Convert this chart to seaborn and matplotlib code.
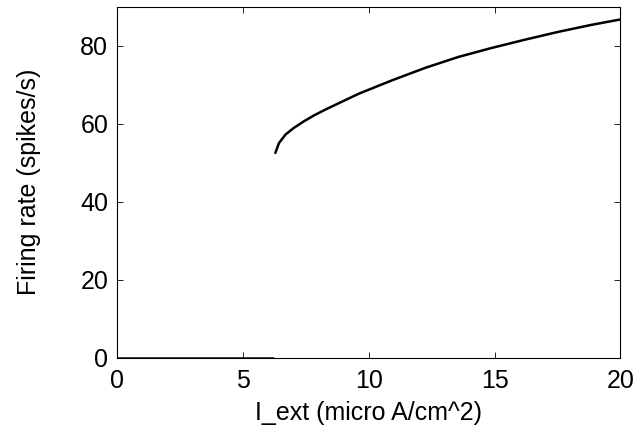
import matplotlib
matplotlib.use("Agg")
import matplotlib.pyplot as plt
import seaborn as sns
import pandas as pd

# Quiescent branch (no firing below threshold)
rest_current = [0.0, 6.2]
rest_rate = [0.0, 0.0]

# Repetitive firing branch above threshold
spike_current = [6.30, 6.44, 6.70, 7.03, 7.43, 7.83, 8.28, 9.62, 10.93,
                 12.25, 13.57, 14.89, 16.2, 17.52, 18.84, 20.0]
spike_rate = [52.5, 55.0, 57.2, 58.9, 60.6, 62.1, 63.6, 67.7, 71.1,
              74.3, 77.1, 79.4, 81.5, 83.5, 85.3, 86.7]

x_ticks = [0, 5, 10, 15, 20]
y_ticks = [0, 20, 40, 60, 80]

sns.set_theme(style="ticks")
plt.rcParams["font.family"] = ["Liberation Sans", "DejaVu Sans"]

fig = plt.figure(figsize=(6.41, 4.36), dpi=100)
ax = fig.add_axes([0.182, 0.179, 0.786, 0.806])

rest = pd.DataFrame({"I": rest_current, "rate": rest_rate})
spike = pd.DataFrame({"I": spike_current, "rate": spike_rate})
sns.lineplot(data=rest, x="I", y="rate", ax=ax, color="black", lw=1.8,
             sort=False, estimator=None)
sns.lineplot(data=spike, x="I", y="rate", ax=ax, color="black", lw=1.8,
             sort=False, estimator=None)

ax.set_xlim(0, 20)
ax.set_ylim(0, 90)
ax.set_xticks(x_ticks)
ax.set_yticks(y_ticks)
ax.tick_params(direction="in", length=4.5, width=0.6, top=True, right=True,
               labelsize=18, colors="black")
ax.tick_params(axis="x", pad=8)
ax.tick_params(axis="y", pad=6)
for s in ax.spines.values():
    s.set_linewidth(0.8)
    s.set_color("black")

ax.set_xlabel("I_ext (micro A/cm^2)", fontsize=18, labelpad=6, color="black")
ax.set_ylabel("Firing rate (spikes/s)", fontsize=18, labelpad=28, color="black")

fig.savefig("out.png", dpi=100)
